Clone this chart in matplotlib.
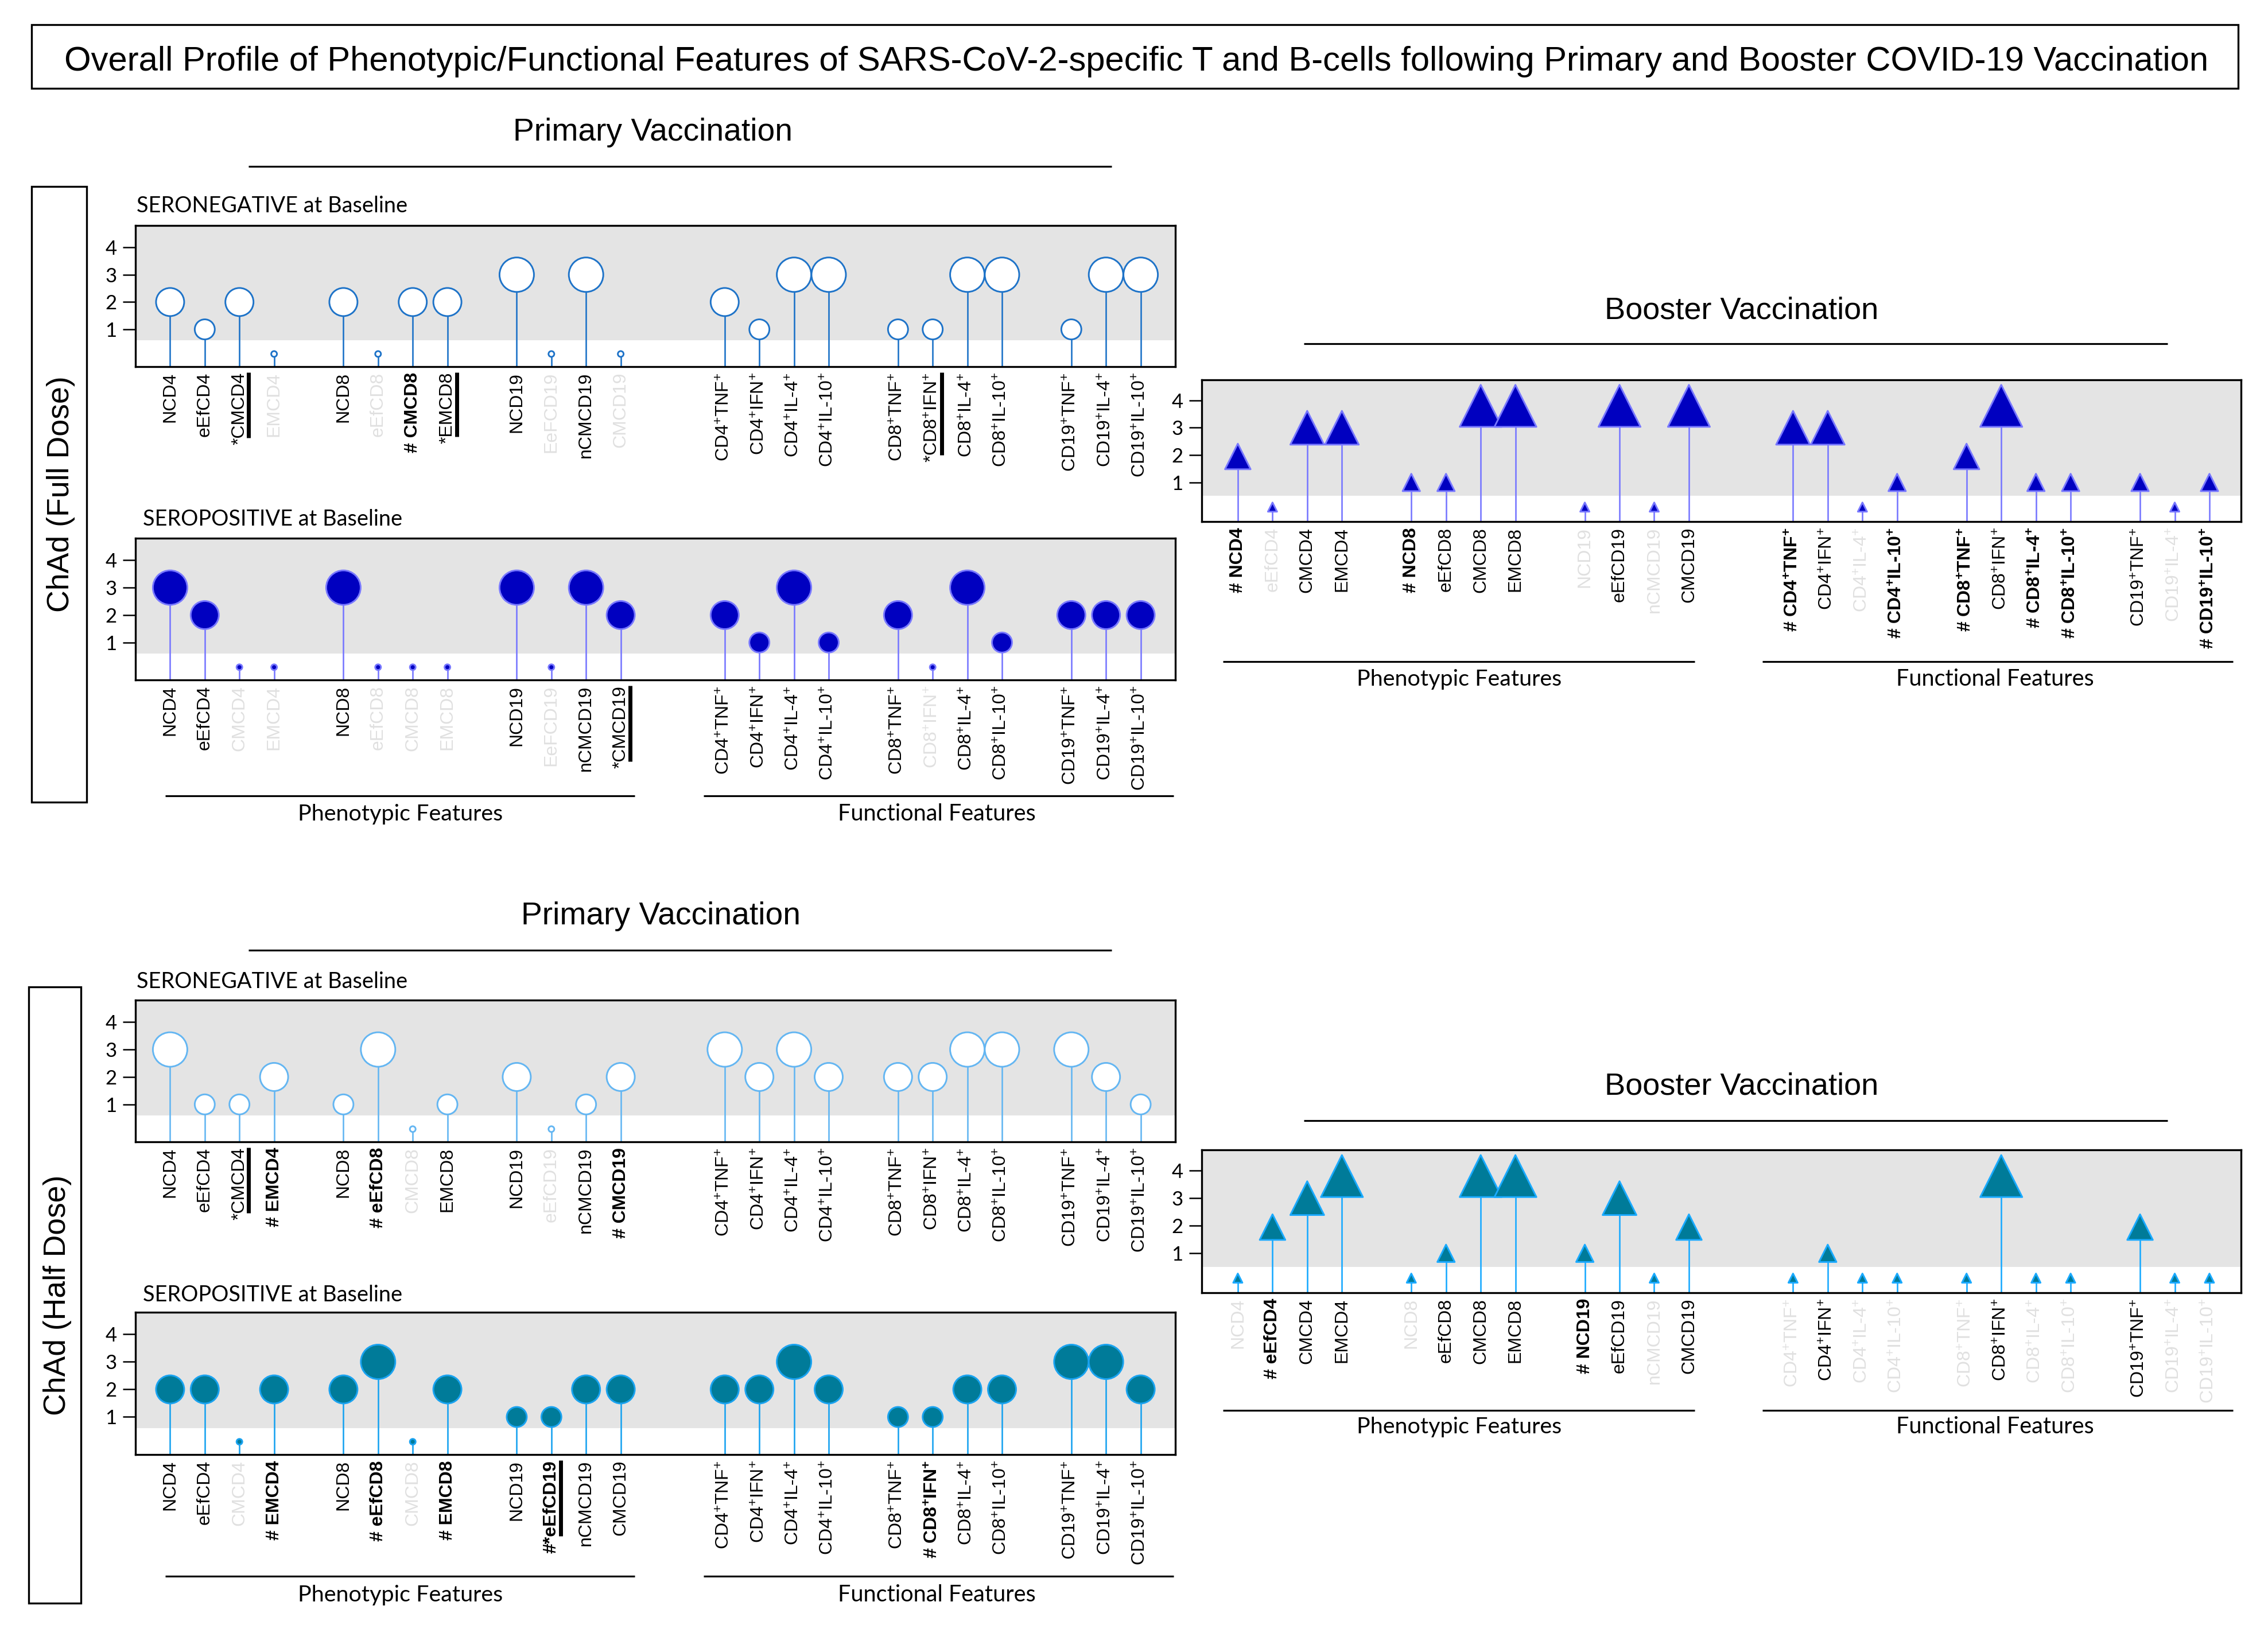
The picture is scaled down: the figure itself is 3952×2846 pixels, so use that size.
import matplotlib
matplotlib.use("Agg")
import matplotlib.pyplot as plt
from matplotlib.transforms import IdentityTransform
from matplotlib.lines import Line2D
from matplotlib.patches import Rectangle
import numpy as np

plt.rcParams['mathtext.default'] = 'regular'
plt.rcParams['font.family'] = ['Liberation Sans', 'DejaVu Sans']

# ---------------- data ----------------
title_text = ("Overall Profile of Phenotypic/Functional Features of SARS-CoV-2-specific "
              "T and B-cells following Primary and Booster COVID-19 Vaccination")
primary_title = "Primary Vaccination"
booster_title = "Booster Vaccination"
dose_labels = ["ChAd (Full Dose)", "ChAd (Half Dose)"]
sero_titles = ["SERONEGATIVE at Baseline", "SEROPOSITIVE at Baseline"]
feature_titles = ["Phenotypic Features", "Functional Features"]

# categories grouped: 3 phenotypic groups of 4, 2 functional groups of 4, 1 of 3
group_sizes = [4, 4, 4, 4, 4, 3]
group_gaps = [1, 1, 2, 1, 1]

func_names = ["CD4+TNF+", "CD4+IFN+", "CD4+IL-4+", "CD4+IL-10+",
              "CD8+TNF+", "CD8+IFN+", "CD8+IL-4+", "CD8+IL-10+",
              "CD19+TNF+", "CD19+IL-4+", "CD19+IL-10+"]

# prefixes: '#' -> bold, '*' -> underlined
full_neg_labels = ["NCD4", "eEfCD4", "*CMCD4", "EMCD4",
                   "NCD8", "eEfCD8", "# CMCD8", "*EMCD8",
                   "NCD19", "EeFCD19", "nCMCD19", "CMCD19",
                   "CD4+TNF+", "CD4+IFN+", "CD4+IL-4+", "CD4+IL-10+",
                   "CD8+TNF+", "*CD8+IFN+", "CD8+IL-4+", "CD8+IL-10+",
                   "CD19+TNF+", "CD19+IL-4+", "CD19+IL-10+"]
full_neg_values = [2, 1, 2, 0, 2, 0, 2, 2, 3, 0, 3, 0,
                   2, 1, 3, 3, 1, 1, 3, 3, 1, 3, 3]

full_pos_labels = ["NCD4", "eEfCD4", "CMCD4", "EMCD4",
                   "NCD8", "eEfCD8", "CMCD8", "EMCD8",
                   "NCD19", "EeFCD19", "nCMCD19", "*CMCD19"] + func_names
full_pos_values = [3, 2, 0, 0, 3, 0, 0, 0, 3, 0, 3, 2,
                   2, 1, 3, 1, 2, 0, 3, 1, 2, 2, 2]

full_boost_labels = ["# NCD4", "eEfCD4", "CMCD4", "EMCD4",
                     "# NCD8", "eEfCD8", "CMCD8", "EMCD8",
                     "NCD19", "eEfCD19", "nCMCD19", "CMCD19",
                     "# CD4+TNF+", "CD4+IFN+", "CD4+IL-4+", "# CD4+IL-10+",
                     "# CD8+TNF+", "CD8+IFN+", "# CD8+IL-4+", "# CD8+IL-10+",
                     "CD19+TNF+", "CD19+IL-4+", "# CD19+IL-10+"]
full_boost_values = [2, 0, 3, 3, 1, 1, 4, 4, 0, 4, 0, 4,
                     3, 3, 0, 1, 2, 4, 1, 1, 1, 0, 1]

half_neg_labels = ["NCD4", "eEfCD4", "*CMCD4", "# EMCD4",
                   "NCD8", "# eEfCD8", "CMCD8", "EMCD8",
                   "NCD19", "eEfCD19", "nCMCD19", "# CMCD19"] + func_names
half_neg_values = [3, 1, 1, 2, 1, 3, 0, 1, 2, 0, 1, 2,
                   3, 2, 3, 2, 2, 2, 3, 3, 3, 2, 1]

half_pos_labels = ["NCD4", "eEfCD4", "CMCD4", "# EMCD4",
                   "NCD8", "# eEfCD8", "CMCD8", "# EMCD8",
                   "NCD19", "#*eEfCD19", "nCMCD19", "CMCD19",
                   "CD4+TNF+", "CD4+IFN+", "CD4+IL-4+", "CD4+IL-10+",
                   "CD8+TNF+", "# CD8+IFN+", "CD8+IL-4+", "CD8+IL-10+",
                   "CD19+TNF+", "CD19+IL-4+", "CD19+IL-10+"]
half_pos_values = [2, 2, 0, 2, 2, 3, 0, 2, 1, 1, 2, 2,
                   2, 2, 3, 2, 1, 1, 2, 2, 3, 3, 2]

half_boost_labels = ["NCD4", "# eEfCD4", "CMCD4", "EMCD4",
                     "NCD8", "eEfCD8", "CMCD8", "EMCD8",
                     "# NCD19", "eEfCD19", "nCMCD19", "CMCD19"] + func_names
half_boost_values = [0, 2, 3, 4, 0, 1, 4, 4, 1, 3, 0, 2,
                     0, 1, 0, 0, 0, 4, 0, 0, 2, 0, 0]

# height at which each score level is drawn
level_y_primary = [0.1, 1.0, 2.0, 3.0, 4.0]
level_y_boost = [0.1, 1.0, 1.95, 3.0, 3.8]

# ---------------- figure ----------------
W, H, DPI = 3952, 2846, 100
fig = plt.figure(figsize=(W / DPI, H / DPI), dpi=DPI)
renderer = fig.canvas.get_renderer()
ID = IdentityTransform()

GREY = '#e4e4e4'
LABEL_GREY = '#e0e0e0'
LABEL_FS = 23

positions = []
p = 0
for gi, gs in enumerate(group_sizes):
    for k in range(gs):
        positions.append(p)
        p += 1
    if gi < len(group_gaps):
        p += group_gaps[gi]
positions = np.array(positions, float)


def fmt(name):
    return name.replace('+', r'$^{+}$')


def split_prefix(lab):
    i = 0
    while i < len(lab) and lab[i] in '#* ':
        i += 1
    return lab[:i], lab[i:]


def ftext(x, y, s, **kw):
    return fig.text(x, H - y, s, transform=ID, **kw)


def fit_text(x, y, s, length, rotation=0, **kw):
    t = ftext(x, y, s, fontsize=20, rotation=rotation, **kw)
    bb = t.get_window_extent(renderer)
    cur = bb.width if rotation == 0 else bb.height
    t.set_fontsize(20 * length / cur)
    return t


def hline(x0, x1, y, lw=2.3):
    fig.add_artist(Line2D([x0, x1], [H - y, H - y], transform=ID, color='black',
                          lw=lw, solid_capstyle='butt'))


def box(x0, y0, x1, y1, lw=2.4):
    fig.add_artist(Rectangle((x0, H - y1), x1 - x0, y1 - y0, transform=ID, fill=False,
                             edgecolor='black', lw=lw))


def draw_panel(bx, labels, values, marker, fill, edge, stem, ylim, grey_lo, xlim, level_y):
    x0, y0, x1, y1 = bx
    ax = fig.add_axes([x0 / W, 1 - y1 / H, (x1 - x0) / W, (y1 - y0) / H])
    ax.set_xlim(xlim)
    ax.set_ylim(ylim)
    ax.axhspan(grey_lo, ylim[1], facecolor=GREY, edgecolor='none', zorder=0)
    vals = np.array(values)
    ys = np.array([level_y[v] for v in vals])
    ax.vlines(positions, ylim[0], ys, colors=stem, linewidth=1.9, zorder=2)
    if marker == 'o':
        d = np.sqrt(169 + 1267 * vals) - 3
    else:
        d = 19 + 14.3 * vals - 3
    s = (d * 72 / DPI) ** 2
    ax.scatter(positions, ys, s=s, marker=marker, facecolors=fill, edgecolors=edge,
               linewidths=2.1, zorder=3, clip_on=False)
    ax.set_xticks([])
    ax.set_yticks([1, 2, 3, 4])
    ax.set_yticklabels(['1', '2', '3', '4'], fontfamily='Lato', fontsize=25)
    ax.tick_params(axis='y', length=15.5, width=1.8, pad=8, color='black')
    for sp in ax.spines.values():
        sp.set_linewidth(2.4)
    # category labels
    for x, lab, v in zip(positions, labels, vals):
        prefix, main = split_prefix(lab)
        px = ax.transData.transform((x, ylim[0]))[0]
        top = H - y1 - 10
        weight = 'bold' if '#' in prefix else 'normal'
        color = LABEL_GREY if v == 0 else 'black'
        t = fig.text(px, top, fmt(lab), transform=ID, rotation=90, ha='center', va='top',
                     fontsize=LABEL_FS, fontweight=weight, color=color)
        if '*' in prefix:
            bb = t.get_window_extent(renderer)
            tmp = fig.text(0, 0, fmt(main), transform=ID, rotation=90,
                           fontsize=LABEL_FS, fontweight=weight)
            mlen = tmp.get_window_extent(renderer).height
            tmp.remove()
            bxp = bb.x1 + 1
            fig.add_artist(Line2D([bxp, bxp], [bb.y1 - mlen, bb.y1], transform=ID,
                                  color='black', lw=5, solid_capstyle='butt'))
    return ax


PRIM_YLIM = (-0.364, 4.80)
BOOST_YLIM = (-0.43, 4.75)
PRIM_XLIM = (-1.0, 29.0)
BOOST_XLIM = (-1.04, 28.91)

# colours
neg_full = dict(fill='white', edge='#1e73c8', stem='#1e73c8')
pos_full = dict(fill='#0000c0', edge='#7878ff', stem='#7878ff')
neg_half = dict(fill='white', edge='#64b6f2', stem='#64b6f2')
pos_half = dict(fill='#007b99', edge='#1aa3f0', stem='#1aa3f0')
boost_half = dict(fill='#007b99', edge='#1aaaff', stem='#1aaaff')

# ---------------- title ----------------
box(55, 43, 3900, 154)
fit_text(1980, 123, title_text, 3735, ha='center', va='baseline')

# ---------------- primary panels ----------------
fit_text(1137, 245, primary_title, 486, ha='center', va='baseline')
hline(433, 1937, 290)
fit_text(1152, 1611, primary_title, 486, ha='center', va='baseline')
hline(433, 1937, 1656)

box(55, 325, 151, 1398)
fit_text(106, 861, dose_labels[0], 411, rotation=90, ha='center', va='center')
box(50, 1720, 141, 2794)
fit_text(100, 2257, dose_labels[1], 419, rotation=90, ha='center', va='center')

fit_text(238, 370, sero_titles[0], 471, ha='left', va='baseline', family='Lato')
fit_text(249, 916, sero_titles[1], 451, ha='left', va='baseline', family='Lato')
fit_text(238, 1722, sero_titles[0], 471, ha='left', va='baseline', family='Lato')
fit_text(249, 2268, sero_titles[1], 451, ha='left', va='baseline', family='Lato')

draw_panel((236, 393, 2048, 639), full_neg_labels, full_neg_values, 'o',
           ylim=PRIM_YLIM, grey_lo=0.60, xlim=PRIM_XLIM, level_y=level_y_primary, **neg_full)
draw_panel((236, 938, 2048, 1185), full_pos_labels, full_pos_values, 'o',
           ylim=PRIM_YLIM, grey_lo=0.60, xlim=PRIM_XLIM, level_y=level_y_primary, **pos_full)
draw_panel((236, 1743, 2048, 1990), half_neg_labels, half_neg_values, 'o',
           ylim=PRIM_YLIM, grey_lo=0.60, xlim=PRIM_XLIM, level_y=level_y_primary, **neg_half)
draw_panel((236, 2287, 2048, 2535), half_pos_labels, half_pos_values, 'o',
           ylim=PRIM_YLIM, grey_lo=0.60, xlim=PRIM_XLIM, level_y=level_y_primary, **pos_half)

for ly, ty in [(1387, 1430), (2747, 2791)]:
    hline(288, 1106, ly)
    hline(1226, 2045, ly)
    fit_text(698, ty, feature_titles[0], 358, ha='center', va='baseline', family='Lato')
    fit_text(1632, ty, feature_titles[1], 346, ha='center', va='baseline', family='Lato')

# ---------------- booster panels ----------------
for ty, ly in [(555, 599), (1907, 1953)]:
    fit_text(3035, ty, booster_title, 476, ha='center', va='baseline')
    hline(2272, 3777, ly)

draw_panel((2094, 662, 3905, 909), full_boost_labels, full_boost_values, '^',
           ylim=BOOST_YLIM, grey_lo=0.51, xlim=BOOST_XLIM, level_y=level_y_boost, **pos_full)
draw_panel((2094, 2004, 3905, 2253), half_boost_labels, half_boost_values, '^',
           ylim=BOOST_YLIM, grey_lo=0.51, xlim=BOOST_XLIM, level_y=level_y_boost, **boost_half)

for ly, ty in [(1153, 1195), (2458, 2498)]:
    hline(2131, 2953, ly)
    hline(3071, 3891, ly)
    fit_text(2543, ty, feature_titles[0], 358, ha='center', va='baseline', family='Lato')
    fit_text(3476, ty, feature_titles[1], 346, ha='center', va='baseline', family='Lato')

fig.savefig("out.png", dpi=DPI)
